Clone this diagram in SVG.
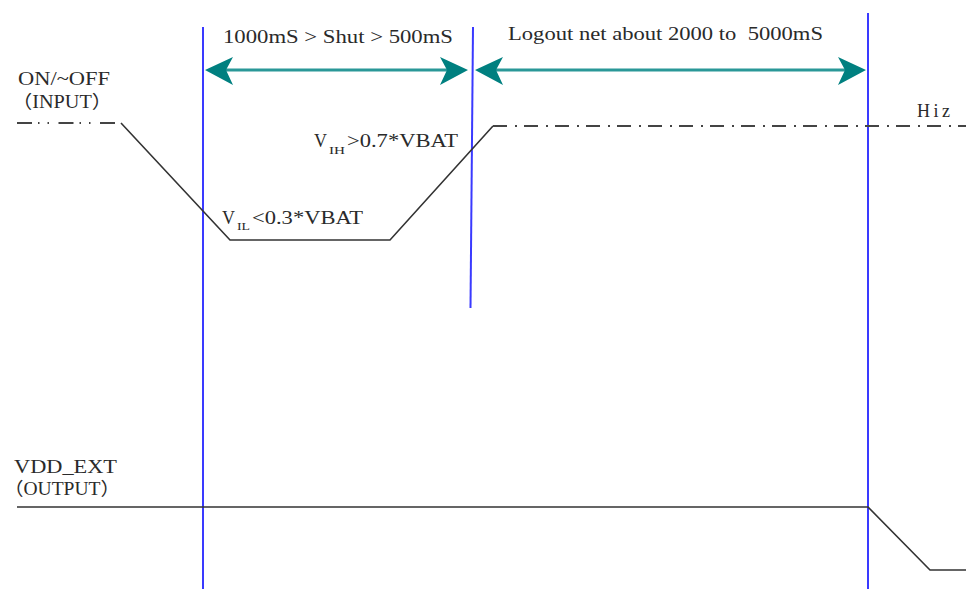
<svg xmlns="http://www.w3.org/2000/svg" width="966" height="589" viewBox="0 0 966 589">
<style>
text{font-family:"Liberation Serif","Noto Sans CJK SC",serif;fill:#2a2a2a;font-size:18px}
.sub{font-size:11px}
.blue{stroke:#3a3aff;stroke-width:2;fill:none}
.sig{stroke:#333;stroke-width:1.6;fill:none}
.dd{stroke:#444;stroke-width:2.2;fill:none}
.arrow{stroke:#2a9898;stroke-width:3;fill:none}
.head{fill:#008080}
</style>
<rect width="966" height="589" fill="#fff"/>
<g id="markers">
<line class="blue" x1="203" y1="27" x2="203" y2="589"/>
<line class="blue" x1="473" y1="27" x2="470.5" y2="308"/>
<line class="blue" x1="868" y1="13" x2="868" y2="589"/>
</g>
<g id="input-signal">
<text x="18" y="85" textLength="92" lengthAdjust="spacingAndGlyphs">ON/~OFF</text>
<text x="12" y="108" textLength="100" lengthAdjust="spacingAndGlyphs">（INPUT）</text>
<line class="dd" x1="17" y1="123" x2="118" y2="123" stroke-dasharray="15 6 1.5 8 1.5 9.5"/>
<polyline class="sig" points="121,123 230,240 390,240 493,126"/>
<line class="dd" x1="493" y1="126" x2="966" y2="126" stroke-dasharray="14 8 2 7"/>
<text x="917" y="117" font-size="16" textLength="33" lengthAdjust="spacing">Hiz</text>
<text y="224" font-size="20"><tspan x="222">V</tspan><tspan class="sub" font-size="12" x="237" y="230" textLength="13" lengthAdjust="spacingAndGlyphs">IL</tspan><tspan x="252" y="224" textLength="111" lengthAdjust="spacingAndGlyphs">&lt;0.3*VBAT</tspan></text>
<text y="147" font-size="20"><tspan x="314">V</tspan><tspan class="sub" font-size="12" x="329" y="154" textLength="16" lengthAdjust="spacingAndGlyphs">IH</tspan><tspan x="347" y="147" textLength="111" lengthAdjust="spacingAndGlyphs">&gt;0.7*VBAT</tspan></text>
</g>
<g id="output-signal">
<text x="14" y="473" textLength="103" lengthAdjust="spacingAndGlyphs">VDD_EXT</text>
<text x="4" y="495" textLength="116" lengthAdjust="spacingAndGlyphs">（OUTPUT）</text>
<polyline class="sig" stroke-width="2.2" points="17,507 868,507 930,570 966,570"/>
</g>
<g id="labels">
<text x="223" y="43" textLength="230" lengthAdjust="spacingAndGlyphs">1000mS &gt; Shut &gt; 500mS</text>
<text x="508" y="40" textLength="315" lengthAdjust="spacingAndGlyphs">Logout net about 2000 to&#160; 5000mS</text>
</g>
<g id="connectors">
<line class="arrow" x1="225" y1="70" x2="448" y2="70"/>
<polygon class="head" points="205,70 233,57 226,70 233,85"/>
<polygon class="head" points="468,70 440,57 447,70 440,85"/>
<line class="arrow" x1="495" y1="70" x2="846" y2="70"/>
<polygon class="head" points="475,70 503,57 496,70 503,85"/>
<polygon class="head" points="866,70 838,57 845,70 838,85"/>
</g>
</svg>
